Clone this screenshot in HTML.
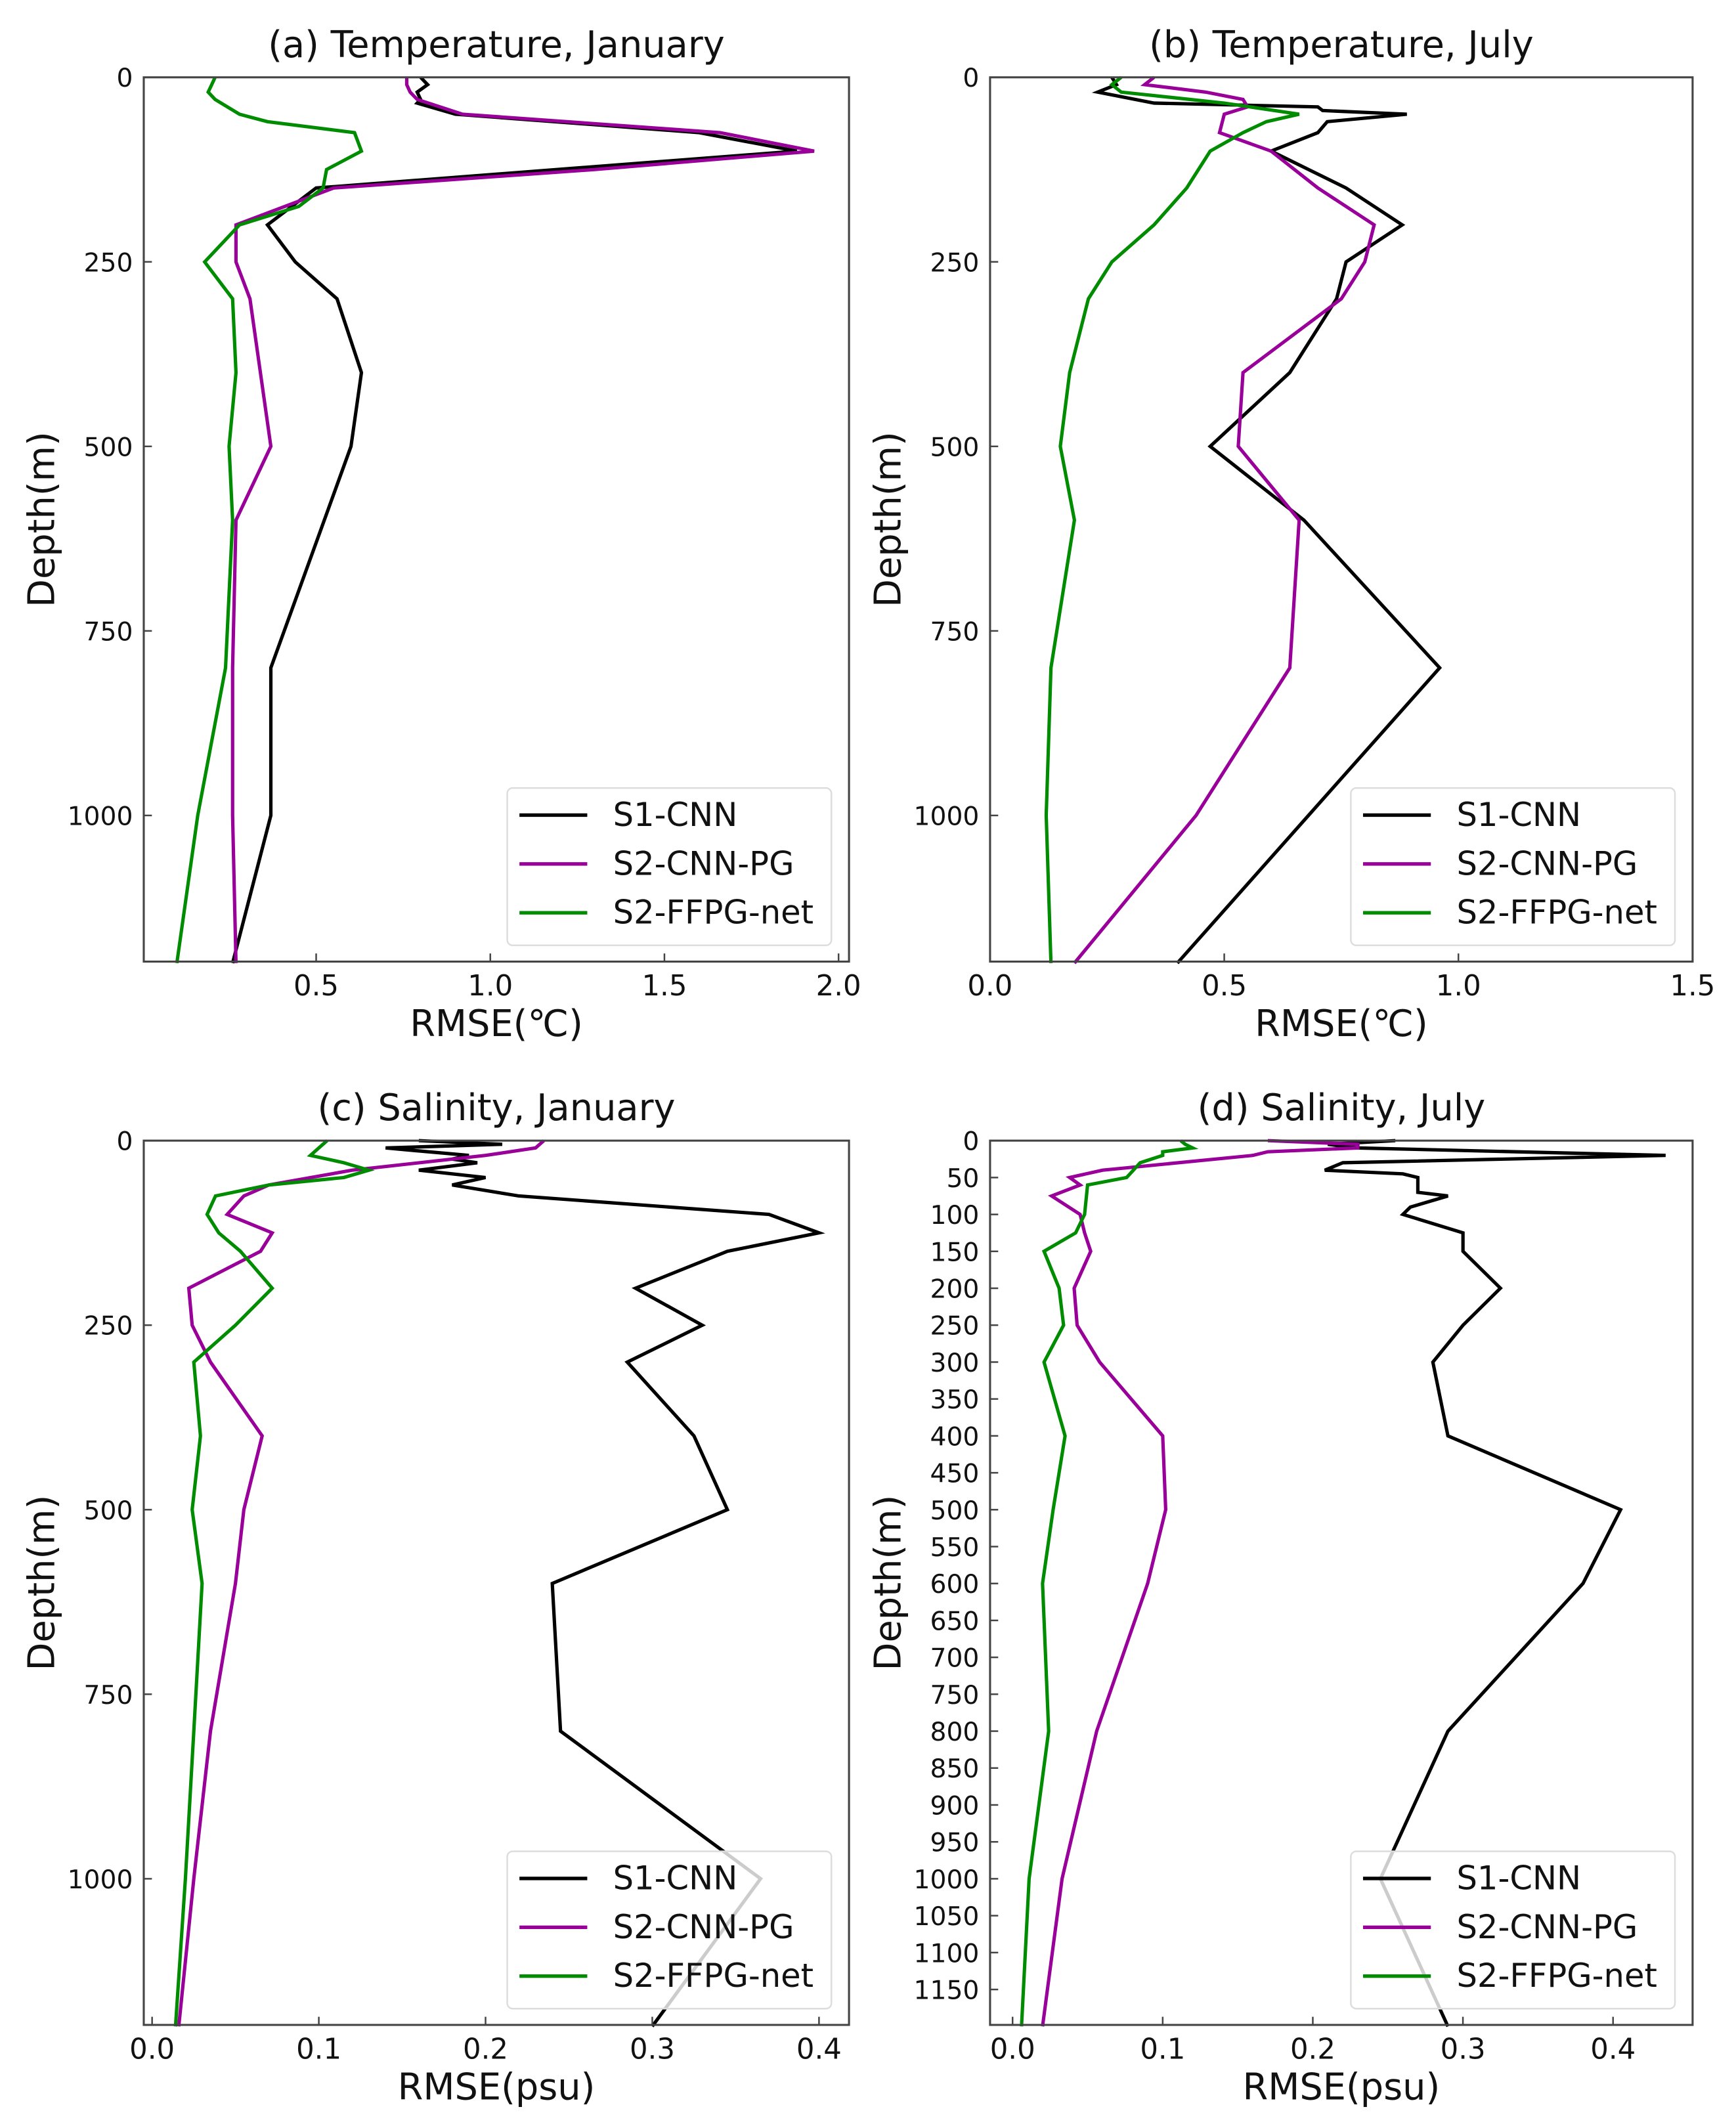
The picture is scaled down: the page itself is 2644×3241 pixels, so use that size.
<!DOCTYPE html>
<html><head><meta charset="utf-8"><style>
html,body{margin:0;padding:0;background:#fff}
svg{display:block;font-family:"DejaVu Sans","Liberation Sans",sans-serif}
</style></head><body>
<svg id="fig" width="2644" height="3241" viewBox="0 0 1280 1569" xmlns="http://www.w3.org/2000/svg"></svg>
<script>
// ---- data (depth in m, RMSE values) ----
const aDepthK = [0,10,20,30,35,50,75,100,150,200,250,300,400,500,800,1000,1200];
const aK      = [0.80,0.82,0.79,0.80,0.79,0.90,1.60,1.88,0.50,0.36,0.44,0.56,0.63,0.60,0.37,0.37,0.26];
const aDepthM = [0,10,20,30,50,75,100,125,150,200,250,300,400,500,600,800,1000,1200];
const aM      = [0.76,0.76,0.77,0.79,0.92,1.66,1.93,1.30,0.55,0.27,0.27,0.31,0.34,0.37,0.27,0.26,0.26,0.27];
const aDepthG = [0,10,20,30,50,60,75,100,125,150,175,200,250,300,400,500,600,800,1000,1200];
const aG      = [0.21,0.20,0.19,0.21,0.28,0.36,0.61,0.63,0.53,0.52,0.45,0.28,0.18,0.26,0.27,0.25,0.26,0.24,0.16,0.10];

const bDepthK = [0,10,20,35,40,45,50,60,75,100,150,200,250,300,400,500,600,800,1000,1200];
const bK      = [0.26,0.27,0.23,0.35,0.70,0.71,0.89,0.72,0.70,0.60,0.76,0.88,0.76,0.74,0.64,0.47,0.67,0.96,0.68,0.40];
const bDepthM = [0,10,20,30,40,50,75,100,150,200,250,300,400,500,600,800,1000,1200];
const bM      = [0.35,0.33,0.46,0.54,0.55,0.50,0.49,0.60,0.70,0.82,0.80,0.75,0.54,0.53,0.66,0.64,0.44,0.18];
const bDepthG = [0,10,20,35,50,60,75,100,150,200,250,300,400,500,600,800,1000,1200];
const bG      = [0.28,0.26,0.28,0.50,0.66,0.59,0.54,0.47,0.42,0.35,0.26,0.21,0.17,0.15,0.18,0.13,0.12,0.13];

const cDepthK = [0,5,10,20,25,30,40,50,60,75,100,125,150,200,250,300,400,500,600,800,1000,1200];
const cK      = [0.16,0.21,0.14,0.19,0.18,0.195,0.16,0.20,0.18,0.22,0.37,0.40,0.345,0.29,0.33,0.285,0.325,0.345,0.24,0.245,0.365,0.30];
const cDepthM = [0,10,20,40,60,75,100,125,150,200,250,300,400,500,600,800,1000,1200];
const cM      = [0.235,0.23,0.20,0.12,0.07,0.055,0.045,0.072,0.065,0.022,0.024,0.035,0.066,0.055,0.05,0.035,0.025,0.016];
const cDepthG = [0,10,20,30,40,50,60,75,100,125,150,200,250,300,400,500,600,800,1000,1200];
const cG      = [0.105,0.10,0.095,0.115,0.13,0.115,0.07,0.038,0.033,0.04,0.053,0.072,0.05,0.025,0.029,0.024,0.03,0.025,0.02,0.014];

const dDepthK = [0,5,10,20,30,40,45,50,70,75,90,100,125,150,200,250,300,400,500,600,800,1000,1200];
const dK      = [0.255,0.21,0.23,0.435,0.22,0.208,0.26,0.27,0.27,0.29,0.265,0.26,0.30,0.30,0.325,0.30,0.28,0.29,0.405,0.38,0.29,0.245,0.29];
const dDepthM = [0,5,10,15,20,40,50,60,75,100,125,150,200,250,300,400,500,600,800,1000,1200];
const dM      = [0.17,0.23,0.23,0.17,0.16,0.06,0.038,0.045,0.026,0.045,0.048,0.052,0.041,0.043,0.058,0.10,0.102,0.09,0.056,0.033,0.02];
const dDepthG = [0,5,10,15,20,30,50,60,100,125,150,200,250,300,400,500,600,800,1000,1200];
const dG      = [0.112,0.115,0.12,0.10,0.10,0.085,0.076,0.05,0.048,0.042,0.021,0.031,0.034,0.021,0.035,0.027,0.02,0.024,0.011,0.006];

const seriesNames = ["S1-CNN","S2-CNN-PG","S2-FFPG-net"];
const seriesColors = ["#000000","#990099","#008c00"];

const ns="http://www.w3.org/2000/svg";
const svg=document.getElementById('fig');
function el(tag,attrs,parent){const e=document.createElementNS(ns,tag);for(const k in attrs)e.setAttribute(k,attrs[k]);(parent||svg).appendChild(e);return e;}

const panels=[
 {id:'a',title:'(a) Temperature, January',L:106,R:626,T:57,B:709,xmin:0.005,xmax:2.03,xt:[0.5,1.0,1.5,2.0],xl:'RMSE(℃)',yt:[0,250,500,750,1000],
  s:[[aDepthK,aK],[aDepthM,aM],[aDepthG,aG]]},
 {id:'b',title:'(b) Temperature, July',L:730,R:1248,T:57,B:709,xmin:0,xmax:1.5,xt:[0.0,0.5,1.0,1.5],xl:'RMSE(℃)',yt:[0,250,500,750,1000],
  s:[[bDepthK,bK],[bDepthM,bM],[bDepthG,bG]]},
 {id:'c',title:'(c) Salinity, January',L:106,R:626,T:841,B:1493,xmin:-0.005,xmax:0.418,xt:[0.0,0.1,0.2,0.3,0.4],xl:'RMSE(psu)',yt:[0,250,500,750,1000],
  s:[[cDepthK,cK],[cDepthM,cM],[cDepthG,cG]]},
 {id:'d',title:'(d) Salinity, July',L:730,R:1248,T:841,B:1493,xmin:-0.015,xmax:0.453,xt:[0.0,0.1,0.2,0.3,0.4],xl:'RMSE(psu)',yt:[0,50,100,150,200,250,300,350,400,450,500,550,600,650,700,750,800,850,900,950,1000,1050,1100,1150],
  s:[[dDepthK,dK],[dDepthM,dM],[dDepthG,dG]]}
];
const ymax=1198;

panels.forEach(p=>{
  const g=el('g',{});
  
  
  const xs=v=>p.L+(v-p.xmin)/(p.xmax-p.xmin)*(p.R-p.L);
  const ys=v=>p.T+v/ymax*(p.B-p.T);
  const cx=(p.L+p.R)/2;
  const t=el('text',{x:cx,y:p.T-15,'font-size':27,'text-anchor':'middle',fill:'#111'},g);t.textContent=p.title;
  
  p.s.forEach((s,i)=>{
    const pts=s[0].map((d,j)=>xs(s[1][j]).toFixed(1)+','+ys(d).toFixed(1)).join(' ');
    const pl=el('polyline',{points:pts,fill:'none',stroke:seriesColors[i],'stroke-width':2.5,'stroke-linejoin':'miter'},g);
    
    
  });
  const fr=el('rect',{x:p.L,y:p.T,width:p.R-p.L,height:p.B-p.T,fill:'none',stroke:'#444','stroke-width':1.5},g);
  
  p.xt.forEach(v=>{
    const x=xs(v);
    el('line',{x1:x,x2:x,y1:p.B,y2:p.B-6,stroke:'#444','stroke-width':1.2},g);
    const tt=el('text',{x:x,y:p.B+25,'font-size':21,'text-anchor':'middle',fill:'#111'},g);tt.textContent=v.toFixed(1);
    
  });
  p.yt.forEach(v=>{
    const y=ys(v);
    el('line',{x1:p.L,x2:p.L+6,y1:y,y2:y,stroke:'#444','stroke-width':1.2},g);
    const tt=el('text',{x:p.L-8,y:y+7,'font-size':19,'text-anchor':'end',fill:'#111'},g);tt.textContent=v;
    
  });
  const xl=el('text',{x:(p.L+p.R)/2,y:p.B+55,'font-size':27,'text-anchor':'middle',fill:'#111'},g);xl.textContent=p.xl;
  
  const yl=el('text',{x:0,y:0,'font-size':27,'text-anchor':'middle',fill:'#111',transform:`translate(${p.L-66},${(p.T+p.B)/2}) rotate(-90)`},g);yl.textContent='Depth(m)';
  
  const lx=p.R-252, ly=p.B-128;
  const lg=el('g',{},g);
  
  el('rect',{x:lx,y:ly,width:239,height:116,rx:4,fill:'#fff','fill-opacity':0.8,stroke:'#ddd','stroke-width':1.2},lg);
  seriesNames.forEach((n,i)=>{
    const yy=ly+20+i*36;
    el('line',{x1:lx+9,x2:lx+59,y1:yy,y2:yy,stroke:seriesColors[i],'stroke-width':2.6},lg);
    const lt=el('text',{x:lx+78,y:yy+8,'font-size':24,fill:'#111'},lg);lt.textContent=n;
    
  });
});
</script>
</body></html>
